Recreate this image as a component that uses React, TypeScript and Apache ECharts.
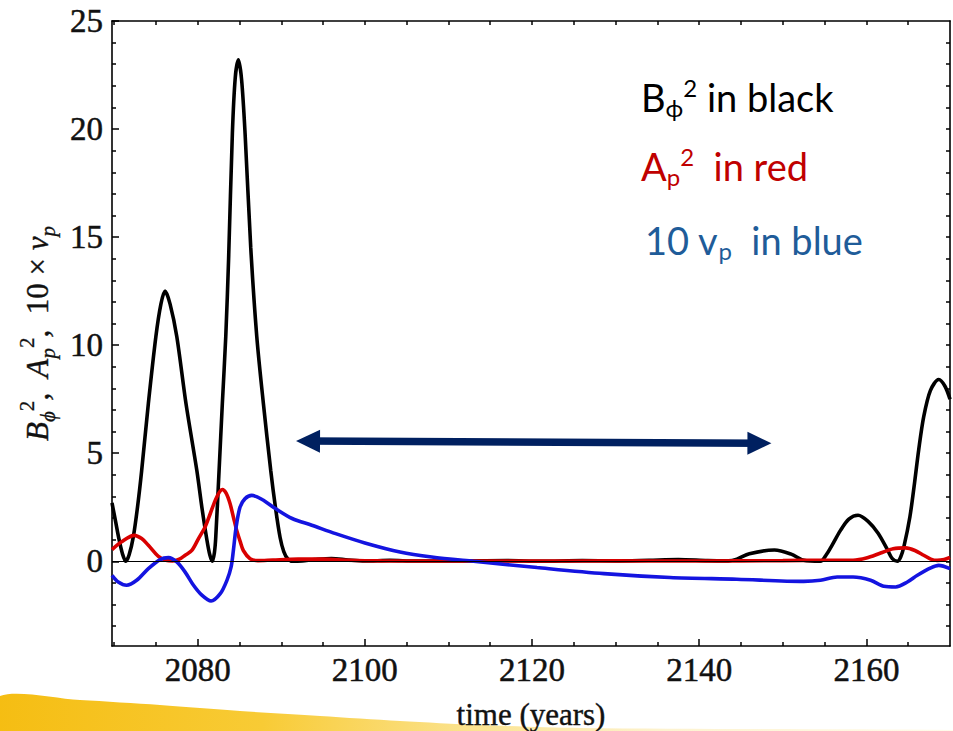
import React, { useEffect, useRef } from 'react';
import * as echarts from 'echarts';

// ---------- data ----------
const blackCurve: [number, number][] = [
  [2069.75, 2.7], [2070.2, 1.8], [2070.6, 1.0], [2071.0, 0.35], [2071.4, 0], [2071.8, 0.3],
  [2072.3, 1.13], [2072.8, 2.5], [2073.3, 4.2], [2074.1, 7.3], [2075.0, 10.4], [2075.6, 11.9],
  [2076.1, 12.5], [2076.7, 11.9], [2077.5, 10.4], [2078.6, 7.3], [2079.9, 4.2], [2080.5, 2.5],
  [2081.1, 1.0], [2081.45, 0.3], [2081.75, 0], [2082.0, 0.4], [2082.16, 1.1], [2082.56, 4.2],
  [2082.95, 7.3], [2083.36, 10.4], [2083.7, 14.0], [2084.15, 19.8], [2084.5, 22.4], [2084.87, 23.2],
  [2085.25, 22.3], [2085.67, 19.8], [2086.35, 14.5], [2087.07, 10.4], [2087.86, 7.3], [2088.74, 4.2],
  [2089.3, 2.5], [2089.86, 1.1], [2090.3, 0.45], [2090.8, 0.1], [2091.5, 0], [2092.5, 0.02],
  [2094, 0.08], [2096, 0.13], [2098, 0.06], [2100, 0.01], [2103, 0.04], [2106, 0.01], [2112, 0.01],
  [2117, 0.03], [2121, 0], [2126, 0.03], [2130, 0.02], [2134, 0.05], [2137.5, 0.08], [2141, 0.03],
  [2143.5, 0.02], [2144.5, 0.1], [2146, 0.35], [2149.0, 0.52], [2151, 0.33], [2152.5, 0.05],
  [2154.5, 0], [2155.2, 0.3], [2155.9, 0.75], [2156.9, 1.43], [2157.9, 1.95], [2159.0, 2.13],
  [2160.2, 1.85], [2161.4, 1.3], [2162.5, 0.55], [2163.1, 0.12], [2163.7, 0], [2164.1, 0.2],
  [2164.5, 0.7], [2165.2, 2.05], [2165.75, 3.6], [2166.25, 5.14], [2166.85, 6.68], [2167.65, 7.9],
  [2168.65, 8.41], [2169.4, 8.1], [2170, 7.5],
];

const redCurve: [number, number][] = [
  [2069.75, 0.54], [2070.9, 0.9], [2072.4, 1.2], [2073.3, 1.05], [2074.1, 0.74], [2075.3, 0.23],
  [2076.2, 0.05], [2077.0, 0.02], [2077.8, 0.1], [2078.5, 0.28], [2079.3, 0.5], [2080.1, 1.05],
  [2080.9, 1.6], [2081.5, 2.2], [2082.1, 2.82], [2082.6, 3.2], [2082.95, 3.32], [2083.4, 3.15],
  [2083.87, 2.67], [2084.3, 2.0], [2084.67, 1.43], [2085.1, 0.9], [2085.46, 0.5], [2086.27, 0.12],
  [2087.2, 0.03], [2089, 0.06], [2092, 0.1], [2095, 0.1], [2098, 0.05], [2102, 0.02], [2110, 0.01],
  [2120, 0.01], [2130, 0.02], [2140, 0.01], [2150, 0.03], [2155, 0.05], [2158.4, 0.05], [2160, 0.15],
  [2161.7, 0.38], [2163.2, 0.58], [2164.7, 0.62], [2165.8, 0.5], [2166.85, 0.28], [2167.7, 0.1],
  [2168.45, 0.04], [2169.3, 0.08], [2170, 0.18],
];

const blueCurve: [number, number][] = [
  [2069.75, -0.65], [2070.5, -0.96], [2071.5, -1.11], [2072.7, -0.88], [2074.1, -0.34], [2075.5, 0.08],
  [2076.5, 0.17], [2077.5, -0.03], [2078.5, -0.5], [2079.5, -1.11], [2080.5, -1.57], [2081.6, -1.84],
  [2082.7, -1.5], [2083.5, -0.88], [2084.0, -0.26], [2084.27, 0.5], [2084.6, 1.59], [2085.07, 2.51],
  [2085.67, 2.9], [2086.47, 3.05], [2087.7, 2.86], [2089.3, 2.44], [2091.3, 1.98], [2093.65, 1.67],
  [2096.5, 1.28], [2100, 0.85], [2104.2, 0.43], [2108, 0.2], [2113, 0], [2120.6, -0.29],
  [2128.6, -0.57], [2136.5, -0.75], [2144.5, -0.83], [2152.5, -0.93], [2154.5, -0.88], [2156.5, -0.73],
  [2158.4, -0.73], [2160.5, -0.88], [2162.1, -1.16], [2163.5, -1.19], [2164.9, -0.96], [2166.1, -0.65],
  [2167.7, -0.31], [2168.65, -0.19], [2170, -0.34],
];

const arrowEnds: [number, number][] = [[2093.2, 5.56], [2147.2, 5.46]];

const xMajorTicks = [2080, 2100, 2120, 2140, 2160];
const xMinorTicks = [2070, 2075, 2085, 2090, 2095, 2105, 2110, 2115, 2125, 2130, 2135, 2145, 2150, 2155, 2165];
const xTopTicks = [2070, 2075, 2080, 2085, 2090, 2095, 2100, 2105, 2110, 2115, 2120, 2125, 2130, 2135, 2140, 2145, 2150, 2155, 2160, 2165];
const yMajorTicks = [0, 5, 10, 15, 20, 25];
const yMinorTicks = [-3, -2, -1, 1, 2, 3, 4, 6, 7, 8, 9, 11, 12, 13, 14, 16, 17, 18, 19, 21, 22, 23, 24];
const yRightTicks = [-3, -2, -1, 0, 1, 2, 3, 4, 5, 6, 7, 8, 9, 10, 11, 12, 13, 14, 15, 16, 17, 18, 19, 20, 21, 22, 23, 24];

const X_MIN = 2069.75;
const X_MAX = 2170;
const Y_MIN = -3.92;
const Y_MAX = 25;

const SERIF = 'Liberation Serif, Times New Roman, serif';
const SANS = 'Lato, Carlito, sans-serif';

export default function App() {
  const ref = useRef<HTMLDivElement>(null);

  useEffect(() => {
    if (!ref.current) return;
    const chart = echarts.init(ref.current, null, { renderer: 'svg' });

    const tickStyle = { color: '#000', width: 1.5 };
    const frameLine = { show: true, onZero: false, lineStyle: { color: '#000', width: 1.6 } };
    const noLine = { show: false, onZero: false };
    const baseX = { type: 'value' as const, min: X_MIN, max: X_MAX, splitLine: { show: false } };
    const baseY = { type: 'value' as const, min: Y_MIN, max: Y_MAX, splitLine: { show: false } };
    const labelText = {
      fontFamily: SERIF, fontSize: 33, color: '#111',
      textBorderColor: '#111', textBorderWidth: 0.5,
    };

    const option: any = {
      animation: false,
      backgroundColor: '#ffffff',
      grid: { left: 112, right: 3, top: 21, bottom: 85, containLabel: false, outerBoundsMode: 'none' },
      xAxis: [
        {
          ...baseX,
          position: 'bottom',
          axisLine: frameLine,
          axisTick: { show: true, inside: true, length: 7, lineStyle: tickStyle, customValues: xMajorTicks },
          axisLabel: {
            show: true, customValues: xMajorTicks, margin: 7,
            formatter: (v: number) => String(v),
            ...labelText,
          },
          name: 'time (years)',
          nameLocation: 'middle',
          nameGap: 53,
          nameTextStyle: { fontFamily: SERIF, fontSize: 31, color: '#111', textBorderColor: '#111', textBorderWidth: 0.4 },
        },
        {
          ...baseX,
          position: 'bottom',
          axisLine: noLine,
          axisTick: { show: true, inside: true, length: 4, lineStyle: tickStyle, customValues: xMinorTicks },
          axisLabel: { show: false },
        },
        {
          ...baseX,
          position: 'top',
          axisLine: frameLine,
          axisTick: { show: true, inside: true, length: 4, lineStyle: tickStyle, customValues: xTopTicks },
          axisLabel: { show: false },
        },
      ],
      yAxis: [
        {
          ...baseY,
          position: 'left',
          axisLine: frameLine,
          axisTick: { show: true, inside: true, length: 7, lineStyle: tickStyle, customValues: yMajorTicks },
          axisLabel: {
            show: true, customValues: yMajorTicks, margin: 9,
            formatter: (v: number) => String(v),
            ...labelText,
          },
          name: '{i|B}{sub|ϕ}{sup|2}{i|,  A}{sub|p}{sup|2}{i|,  }{n|10 × }{i|ν}{sub|p}',
          nameLocation: 'middle',
          nameRotate: 90,
          nameGap: 50,
          nameTextStyle: {
            fontFamily: SERIF, fontSize: 31, color: '#111',
            rich: {
              i: { fontFamily: SERIF, fontStyle: 'italic', fontSize: 31, lineHeight: 42, color: '#111', textBorderColor: '#111', textBorderWidth: 0.4 },
              n: { fontFamily: SERIF, fontSize: 31, lineHeight: 42, color: '#111', textBorderColor: '#111', textBorderWidth: 0.4 },
              sub: { fontFamily: SERIF, fontStyle: 'italic', fontSize: 21, lineHeight: 20, verticalAlign: 'bottom', color: '#111', textBorderColor: '#111', textBorderWidth: 0.3 },
              sup: { fontFamily: SERIF, fontSize: 21, lineHeight: 20, verticalAlign: 'top', color: '#111', textBorderColor: '#111', textBorderWidth: 0.3 },
            },
          },
        },
        {
          ...baseY,
          position: 'left',
          axisLine: noLine,
          axisTick: { show: true, inside: true, length: 4, lineStyle: tickStyle, customValues: yMinorTicks },
          axisLabel: { show: false },
        },
        {
          ...baseY,
          position: 'right',
          axisLine: frameLine,
          axisTick: { show: true, inside: true, length: 4, lineStyle: tickStyle, customValues: yRightTicks },
          axisLabel: { show: false },
        },
      ],
      series: [
        {
          name: 'B_phi^2',
          type: 'line',
          data: blackCurve,
          smooth: 0.3,
          showSymbol: false,
          symbol: 'none',
          lineStyle: { color: '#000000', width: 3.6 },
          silent: true,
          markLine: {
            silent: true,
            symbol: ['none', 'none'],
            label: { show: false },
            lineStyle: { color: '#000', width: 1.2, type: 'solid' },
            data: [{ yAxis: 0 }],
          },
        },
        {
          name: 'A_p^2',
          type: 'line',
          data: redCurve,
          smooth: 0.3,
          showSymbol: false,
          symbol: 'none',
          lineStyle: { color: '#d90000', width: 3.6 },
          silent: true,
        },
        {
          name: '10 v_p',
          type: 'line',
          data: blueCurve,
          smooth: 0.3,
          showSymbol: false,
          symbol: 'none',
          lineStyle: { color: '#1414e0', width: 3.6 },
          silent: true,
          markLine: {
            silent: true,
            symbol: ['triangle', 'triangle'],
            symbolSize: [23, 24],
            label: { show: false },
            lineStyle: { color: '#002060', width: 7.5, type: 'solid' },
            itemStyle: { color: '#002060' },
            data: [[{ coord: arrowEnds[0] }, { coord: arrowEnds[1] }]],
          },
        },
      ],
      graphic: [
        {
          type: 'polygon',
          silent: true,
          z: -10,
          shape: {
            points: [[0, 696], [80, 700], [160, 705], [240, 711], [320, 716], [400, 721], [480, 725],
              [580, 728], [953, 730], [953, 731], [0, 731]],
            smooth: 0.3,
          },
          style: {
            fill: new echarts.graphic.LinearGradient(0, 0, 1, 0, [
              { offset: 0, color: '#f5bd12' },
              { offset: 0.28, color: '#f8cb35' },
              { offset: 0.5, color: '#fbe390' },
              { offset: 0.7, color: '#fdf3d0' },
              { offset: 1, color: '#fffbea' },
            ]),
          },
        },
        {
          type: 'text',
          x: 641,
          y: 97,
          style: {
            text: '{b|B}{s|ϕ}{p|2}{b| in black}',
            verticalAlign: 'middle',
            align: 'left',
            fill: '#000',
            rich: {
              b: { fontFamily: SANS, fontSize: 38, lineHeight: 44, fill: '#000' },
              s: { fontFamily: SANS, fontSize: 24, lineHeight: 22, verticalAlign: 'bottom', fill: '#000' },
              p: { fontFamily: SANS, fontSize: 24, lineHeight: 26, verticalAlign: 'top', fill: '#000' },
            },
          },
        },
        {
          type: 'text',
          x: 641,
          y: 166,
          style: {
            text: '{b|A}{s|p}{p|2}{b|  in red}',
            verticalAlign: 'middle',
            align: 'left',
            fill: '#c00000',
            rich: {
              b: { fontFamily: SANS, fontSize: 38, lineHeight: 44, fill: '#c00000' },
              s: { fontFamily: SANS, fontSize: 24, lineHeight: 22, verticalAlign: 'bottom', fill: '#c00000' },
              p: { fontFamily: SANS, fontSize: 24, lineHeight: 26, verticalAlign: 'top', fill: '#c00000' },
            },
          },
        },
        {
          type: 'text',
          x: 645,
          y: 240,
          style: {
            text: '{b|10 v}{s|p}{b|  in blue}',
            verticalAlign: 'middle',
            align: 'left',
            fill: '#1f5c99',
            rich: {
              b: { fontFamily: SANS, fontSize: 38, lineHeight: 44, fill: '#1f5c99' },
              s: { fontFamily: SANS, fontSize: 24, lineHeight: 22, verticalAlign: 'bottom', fill: '#1f5c99' },
            },
          },
        },
      ],
    };

    chart.setOption(option);
    return () => chart.dispose();
  }, []);

  return (
    <div
      ref={ref}
      style={{ position: 'absolute', left: 0, top: 0, width: 953, height: 731, background: '#fff' }}
    />
  );
}
